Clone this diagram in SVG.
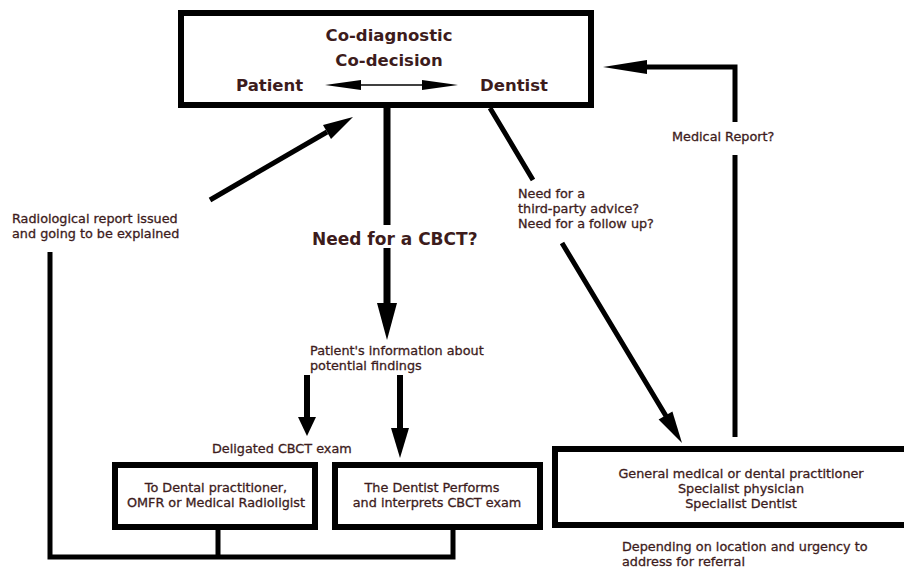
<svg xmlns="http://www.w3.org/2000/svg" width="904" height="570" viewBox="0 0 904 570">
<style>
.box{fill:#fff;stroke:#000;stroke-width:6}
.ln{fill:none;stroke:#000;stroke-width:5;stroke-linecap:butt;stroke-linejoin:miter}
.hd{fill:#000;stroke:none}
text{font-family:"DejaVu Sans","Liberation Sans",sans-serif;fill:#3d1c1c;font-weight:bold}
.big{font-size:16.5px}
.mid{font-size:12.8px;font-weight:normal;stroke:#3d1c1c;stroke-width:0.3}
.c{text-anchor:middle}
</style>
<rect width="904" height="570" fill="#fff"/>
<g id="connectors">
<path class="ln" d="M50 252 V557 H453 V527 M218 557 V527"/>
<path class="ln" style="stroke-width:7" d="M387 105 V225 M387 248 V304"/>
<polygon class="hd" points="377,303 397,303 387,340"/>
<path class="ln" style="stroke-width:6" d="M307 375 V418"/>
<polygon class="hd" points="298,417 316,417 307,436"/>
<path class="ln" style="stroke-width:6" d="M400 375 V429"/>
<polygon class="hd" points="391,428 409,428 400,458"/>
<path class="ln" d="M210 200 L327 132"/>
<polygon class="hd" points="353,117 331,139 323,125"/>
<path class="ln" d="M490 108 L533 180 M562 243 L666 416"/>
<polygon class="hd" points="682,443 672.4,411.4 658.6,419.6"/>
<path class="ln" d="M735 437 V155 M735 122 V67 H646"/>
<polygon class="hd" points="603,67 647,60 647,74"/>
</g>
<g id="top">
<rect class="box" x="181" y="13" width="410" height="92"/>
<text class="big c" x="389" y="41">Co-diagnostic</text>
<text class="big c" x="389" y="66">Co-decision</text>
<text class="big" x="236" y="91">Patient</text>
<text class="big" x="480" y="91">Dentist</text>
<line x1="350" y1="85" x2="433" y2="85" stroke="#000" stroke-width="1.6"/>
<polygon class="hd" points="325,85 361,80 361,90"/>
<polygon class="hd" points="458,85 422,80 422,90"/>
</g>
<g id="lbl-radio">
<text class="mid" x="12" y="223">Radiological report issued</text>
<text class="mid" x="12" y="238">and going to be explained</text>
</g>
<g id="lbl-cbct">
<text style="font-size:17px" x="312" y="245">Need for a CBCT?</text>
</g>
<g id="lbl-info">
<text class="mid" x="310" y="355">Patient's information about</text>
<text class="mid" x="310" y="370">potential findings</text>
</g>
<g id="lbl-third">
<text class="mid" x="518" y="198">Need for a</text>
<text class="mid" x="518" y="213">third-party advice?</text>
<text class="mid" x="518" y="228">Need for a follow up?</text>
</g>
<g id="lbl-medical">
<text class="mid" x="672" y="141">Medical Report?</text>
</g>
<g id="lbl-deleg">
<text class="mid" x="212" y="453">Deligated CBCT exam</text>
</g>
<g id="box-delegated">
<rect class="box" x="115" y="465" width="200" height="62"/>
<text class="mid c" x="216" y="492">To Dental practitioner,</text>
<text class="mid c" x="216" y="507">OMFR or Medical Radioligist</text>
</g>
<g id="box-dentist">
<rect class="box" x="335" y="465" width="205" height="62"/>
<text class="mid c" x="432" y="492">The Dentist Performs</text>
<text class="mid c" x="437" y="507">and interprets CBCT exam</text>
</g>
<g id="box-referral">
<rect class="box" x="555" y="449" width="365" height="76"/>
<text class="mid c" x="741" y="478">General medical or dental practitioner</text>
<text class="mid c" x="741" y="493">Specialist physician</text>
<text class="mid c" x="741" y="508">Specialist Dentist</text>
</g>
<g id="lbl-depending">
<text class="mid" x="622" y="551">Depending on location and urgency to</text>
<text class="mid" x="622" y="566">address for referral</text>
</g>
</svg>
